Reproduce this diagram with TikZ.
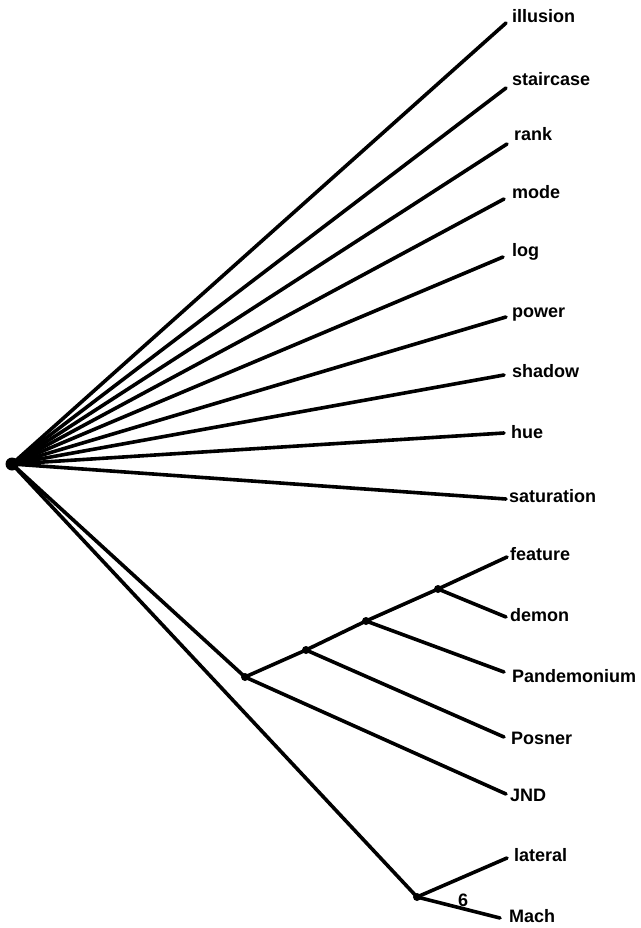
\documentclass[tikz,border=0pt]{standalone}
\usepackage{fontspec}
\setmainfont{Liberation Sans}
\begin{document}
\begin{tikzpicture}[x=1pt,y=-1pt,
  edge/.style={line width=3.6pt, line cap=round},
  lbl/.style={anchor=west, inner sep=0pt, font=\fontsize{18}{18}\selectfont\bfseries},
  dot/.style={circle, fill=black, inner sep=0pt, minimum size=#1}]
\useasboundingbox (0,0) rectangle (640,928);
\node[dot=13pt] (root) at (12,464) {};
\node[dot=8pt] (n1) at (245,677) {};
\node[dot=8pt] (n2) at (306,650) {};
\node[dot=8pt] (n3) at (366,621) {};
\node[dot=8pt] (n4) at (438,589) {};
\node[dot=8pt] (nm) at (417,897) {};
% leaf endpoints
\coordinate (eillusion) at (506,23);
\coordinate (estaircase) at (506,88);
\coordinate (erank) at (507,144);
\coordinate (emode) at (504,199);
\coordinate (elog) at (503,257);
\coordinate (epower) at (506,317);
\coordinate (eshadow) at (504,375);
\coordinate (ehue) at (504,433);
\coordinate (esaturation) at (506,499);
\coordinate (efeature) at (507,557);
\coordinate (edemon) at (506,617);
\coordinate (epandemonium) at (504,672);
\coordinate (eposner) at (504,737);
\coordinate (ejnd) at (506,794);
\coordinate (elateral) at (507,858);
\coordinate (emach) at (500,918);
% labels
\node[lbl] (tillusion) at (512,16) {illusion};
\node[lbl] (tstaircase) at (512,79) {staircase};
\node[lbl] (trank) at (514,134) {rank};
\node[lbl] (tmode) at (512,192) {mode};
\node[lbl] (tlog) at (512,252) {log};
\node[lbl] (tpower) at (512,315) {power};
\node[lbl] (tshadow) at (512,371) {shadow};
\node[lbl] (thue) at (511,432) {hue};
\node[lbl] (tsaturation) at (509,496) {saturation};
\node[lbl] (tfeature) at (510,554) {feature};
\node[lbl] (tdemon) at (510,615) {demon};
\node[lbl] (tpandemonium) at (512,676) {Pandemonium};
\node[lbl] (tposner) at (511,738) {Posner};
\node[lbl] (tjnd) at (510,795) {JND};
\node[lbl] (tlateral) at (514,855) {lateral};
\node[lbl] (tmach) at (509,916) {Mach};
\node[font=\fontsize{18}{18}\selectfont\bfseries] (six) at (463,900) {6};
% edges
\foreach \e in {illusion,staircase,rank,mode,log,power,shadow,hue,saturation}
  \draw[edge] (root.center) -- (e\e);
\draw[edge] (root.center) -- (n1.center);
\draw[edge] (root.center) -- (nm.center);
\draw[edge] (n1.center) -- (n2.center) -- (n3.center) -- (n4.center) -- (efeature);
\draw[edge] (n4.center) -- (edemon);
\draw[edge] (n3.center) -- (epandemonium);
\draw[edge] (n2.center) -- (eposner);
\draw[edge] (n1.center) -- (ejnd);
\draw[edge] (nm.center) -- (elateral);
\draw[edge] (nm.center) -- (emach);
\end{tikzpicture}
\end{document}
